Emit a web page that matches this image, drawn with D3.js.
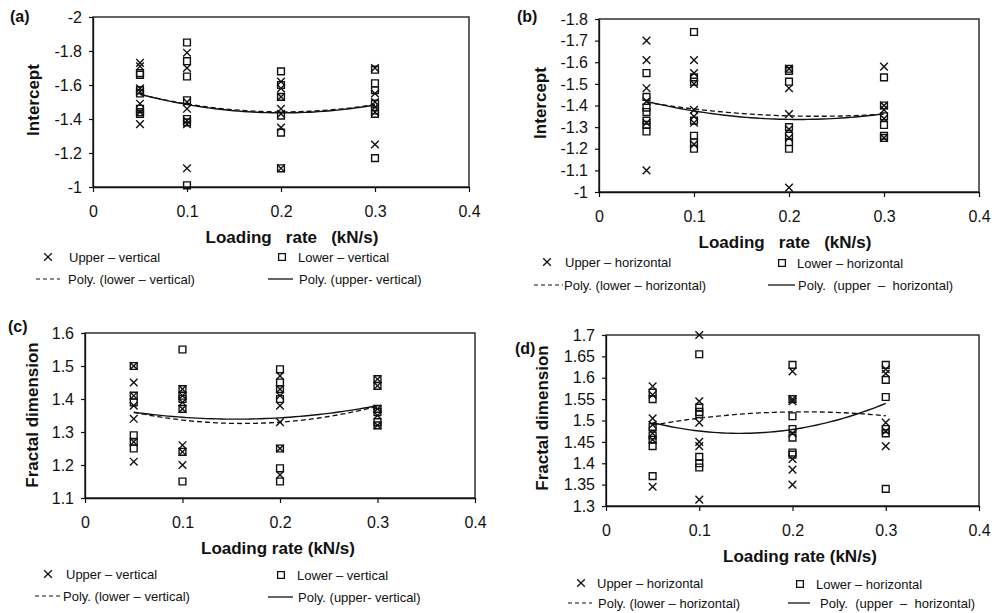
<!DOCTYPE html>
<html>
<head>
<meta charset="utf-8">
<script src="https://cdn.jsdelivr.net/npm/d3@7/dist/d3.min.js"></script>
<style>
  html, body { margin: 0; padding: 0; background: #fff; }
  svg { display: block; font-family: "Liberation Sans", Arial, sans-serif; }
  text { white-space: pre; fill: #111; }
</style>
</head>
<body>
<svg id="chart" width="995" height="613"></svg>
<script>
// Loading rates (kN/s) at which specimens were tested
const loadingRates = [0.05, 0.1, 0.2, 0.3];
const xTicks = [0, 0.1, 0.2, 0.3, 0.4];

// (a) Intercept, vertical direction — one list per loading rate
const interceptUpperVertical = [
  [-1.73, -1.71, -1.58, -1.56, -1.49, -1.44, -1.37],
  [-1.79, -1.70, -1.50, -1.46, -1.39, -1.37, -1.11],
  [-1.62, -1.58, -1.53, -1.46, -1.43, -1.35, -1.11],
  [-1.70, -1.55, -1.50, -1.47, -1.44, -1.25]
];
const interceptLowerVertical = [
  [-1.67, -1.66, -1.57, -1.55, -1.46, -1.44, -1.43],
  [-1.85, -1.74, -1.65, -1.51, -1.40, -1.38, -1.01],
  [-1.68, -1.60, -1.53, -1.42, -1.32, -1.11],
  [-1.69, -1.61, -1.57, -1.49, -1.45, -1.43, -1.17]
];
// second-order trendline coefficients [c0, c1, c2]
const interceptUpperVerticalFit = [-1.629, 1.913, -4.747];
const interceptLowerVerticalFit = [-1.624, 1.803, -4.467];
const interceptVerticalTicks = [-2, -1.8, -1.6, -1.4, -1.2, -1];

// (b) Intercept, horizontal direction
const interceptUpperHorizontal = [
  [-1.70, -1.61, -1.48, -1.42, -1.32, -1.10],
  [-1.61, -1.55, -1.50, -1.38, -1.35, -1.32, -1.22],
  [-1.57, -1.48, -1.36, -1.29, -1.25, -1.02],
  [-1.58, -1.40, -1.38, -1.34, -1.25]
];
const interceptLowerHorizontal = [
  [-1.55, -1.44, -1.39, -1.37, -1.33, -1.31, -1.28],
  [-1.74, -1.53, -1.51, -1.33, -1.26, -1.23, -1.20],
  [-1.57, -1.56, -1.51, -1.30, -1.26, -1.23, -1.20],
  [-1.53, -1.40, -1.35, -1.31, -1.26, -1.25]
];
const interceptUpperHorizontalFit = [-1.479, 1.367, -3.253];
const interceptLowerHorizontalFit = [-1.456, 0.92, -2.0];
const interceptHorizontalTicks = [-1.8, -1.7, -1.6, -1.5, -1.4, -1.3, -1.2, -1.1, -1];

// (c) Fractal dimension, vertical direction
const fractalUpperVertical = [
  [1.50, 1.45, 1.41, 1.38, 1.34, 1.27, 1.21],
  [1.43, 1.41, 1.39, 1.37, 1.26, 1.24, 1.20],
  [1.47, 1.43, 1.41, 1.38, 1.33, 1.25, 1.17],
  [1.46, 1.44, 1.37, 1.35, 1.32]
];
const fractalLowerVertical = [
  [1.50, 1.41, 1.39, 1.29, 1.27, 1.25],
  [1.55, 1.43, 1.41, 1.40, 1.37, 1.24, 1.15],
  [1.49, 1.45, 1.43, 1.40, 1.25, 1.19, 1.15],
  [1.46, 1.44, 1.37, 1.36, 1.33, 1.32]
];
const fractalUpperVerticalFit = [1.385, -0.597, 1.933];
const fractalLowerVerticalFit = [1.397, -0.88, 2.72];
const fractalVerticalTicks = [1.1, 1.2, 1.3, 1.4, 1.5, 1.6];

// (d) Fractal dimension, horizontal direction
const fractalUpperHorizontal = [
  [1.58, 1.56, 1.505, 1.49, 1.47, 1.455, 1.345],
  [1.70, 1.545, 1.495, 1.45, 1.44, 1.315],
  [1.615, 1.55, 1.545, 1.47, 1.41, 1.385, 1.35],
  [1.62, 1.61, 1.495, 1.475, 1.44]
];
const fractalLowerHorizontal = [
  [1.565, 1.55, 1.485, 1.465, 1.455, 1.44, 1.37],
  [1.655, 1.53, 1.52, 1.515, 1.415, 1.40, 1.39],
  [1.63, 1.55, 1.51, 1.48, 1.46, 1.425, 1.42],
  [1.63, 1.595, 1.555, 1.48, 1.47, 1.34]
];
const fractalUpperHorizontalFit = [1.529, -0.823, 2.867];
const fractalLowerHorizontalFit = [1.467, 0.503, -1.187];
const fractalHorizontalTicks = [1.3, 1.35, 1.4, 1.45, 1.5, 1.55, 1.6, 1.65, 1.7];

// Panel geometry and text
const panels = [
  {
    tag: "(a)", tagPos: [10, 22],
    box: { left: 93, right: 469, top: 17, bottom: 187 },
    yDomain: [-2, -1], yTicks: interceptVerticalTicks,
    yTitle: "Intercept", yTitlePos: [33, 100],
    xTitle: "Loading   rate   (kN/s)", xTitlePos: [292, 243],
    upper: interceptUpperVertical, lower: interceptLowerVertical,
    upperFit: interceptUpperVerticalFit, lowerFit: interceptLowerVerticalFit,
    legend: {
      upper: { mark: [48, 257], text: [69, 257], label: "Upper – vertical" },
      lower: { mark: [282, 257], text: [298, 257], label: "Lower – vertical" },
      lowerFit: { line: [36, 60, 279], text: [68, 279], label: "Poly. (lower – vertical)" },
      upperFit: { line: [268, 293, 279], text: [299, 279], label: "Poly. (upper- vertical)" }
    }
  },
  {
    tag: "(b)", tagPos: [517, 22],
    box: { left: 599, right: 979, top: 19, bottom: 192 },
    yDomain: [-1.8, -1], yTicks: interceptHorizontalTicks,
    yTitle: "Intercept", yTitlePos: [540, 103],
    xTitle: "Loading   rate   (kN/s)", xTitlePos: [785, 248],
    upper: interceptUpperHorizontal, lower: interceptLowerHorizontal,
    upperFit: interceptUpperHorizontalFit, lowerFit: interceptLowerHorizontalFit,
    legend: {
      upper: { mark: [547, 262], text: [565, 262], label: "Upper – horizontal" },
      lower: { mark: [782, 263], text: [797, 263], label: "Lower – horizontal" },
      lowerFit: { line: [534, 563, 285], text: [564, 285], label: "Poly. (lower – horizontal)" },
      upperFit: { line: [768, 795, 285], text: [798, 285], label: "Poly.  (upper  –  horizontal)" }
    }
  },
  {
    tag: "(c)", tagPos: [8, 332],
    box: { left: 85, right: 475, top: 333, bottom: 498 },
    yDomain: [1.6, 1.1], yTicks: fractalVerticalTicks,
    yTitle: "Fractal dimension", yTitlePos: [32, 415],
    xTitle: "Loading rate (kN/s)", xTitlePos: [278, 554],
    upper: fractalUpperVertical, lower: fractalLowerVertical,
    upperFit: fractalUpperVerticalFit, lowerFit: fractalLowerVerticalFit,
    legend: {
      upper: { mark: [48, 574], text: [66, 574], label: "Upper – vertical" },
      lower: { mark: [281, 575], text: [297, 575], label: "Lower – vertical" },
      lowerFit: { line: [35, 60, 596], text: [63, 596], label: "Poly. (lower – vertical)" },
      upperFit: { line: [268, 293, 597], text: [298, 597], label: "Poly. (upper- vertical)" }
    }
  },
  {
    tag: "(d)", tagPos: [515, 354],
    box: { left: 606, right: 979, top: 335, bottom: 506 },
    yDomain: [1.7, 1.3], yTicks: fractalHorizontalTicks,
    yTitle: "Fractal dimension", yTitlePos: [542, 418],
    xTitle: "Loading rate (kN/s)", xTitlePos: [800, 562],
    upper: fractalUpperHorizontal, lower: fractalLowerHorizontal,
    upperFit: fractalUpperHorizontalFit, lowerFit: fractalLowerHorizontalFit,
    legend: {
      upper: { mark: [581, 583], text: [597, 583], label: "Upper – horizontal" },
      lower: { mark: [800, 584], text: [816, 584], label: "Lower – horizontal" },
      lowerFit: { line: [568, 592, 603], text: [598, 603], label: "Poly. (lower – horizontal)" },
      upperFit: { line: [788, 810, 603], text: [820, 603], label: "Poly.  (upper  –  horizontal)" }
    }
  }
];

const svg = d3.select("#chart");
const ink = "#111";
const crossPath = d3.symbol(d3.symbolTimes, 40)();
const squarePath = d3.symbol(d3.symbolSquare, 46)();
const poly = (c, x) => c[0] + c[1] * x + c[2] * x * x;

function drawPanel(p) {
  const g = svg.append("g");
  const x = d3.scaleLinear().domain([0, 0.4]).range([p.box.left, p.box.right]);
  const y = d3.scaleLinear().domain(p.yDomain).range([p.box.top, p.box.bottom]);

  // frame
  g.append("rect")
    .attr("x", p.box.left).attr("y", p.box.top)
    .attr("width", p.box.right - p.box.left).attr("height", p.box.bottom - p.box.top)
    .attr("fill", "none").attr("stroke", ink).attr("stroke-width", 1.3);

  // axes
  const xAxis = d3.axisBottom(x).tickValues(xTicks).tickFormat(d => String(d))
    .tickSizeInner(5).tickSizeOuter(0).tickPadding(14);
  const yAxis = d3.axisLeft(y).tickValues(p.yTicks).tickFormat(d => String(d))
    .tickSizeInner(4).tickSizeOuter(0).tickPadding(7);

  const gx = g.append("g").attr("transform", `translate(0,${p.box.bottom})`).call(xAxis);
  const gy = g.append("g").attr("transform", `translate(${p.box.left},0)`).call(yAxis);
  [gx, gy].forEach(a => {
    a.select(".domain").attr("stroke", ink).attr("stroke-width", 1.3);
    a.selectAll(".tick line").attr("stroke", ink).attr("stroke-width", 1.2);
    a.selectAll(".tick text").attr("font-size", 16).attr("fill", ink)
      .attr("font-family", "Liberation Sans, Arial, sans-serif");
  });

  // points
  const flat = (series) => series.flatMap((vals, i) => vals.map(v => ({ x: loadingRates[i], v })));
  g.append("g").selectAll("path").data(flat(p.lower)).join("path")
    .attr("d", squarePath)
    .attr("transform", d => `translate(${x(d.x)},${y(d.v)})`)
    .attr("fill", "none").attr("stroke", ink).attr("stroke-width", 1.4);
  g.append("g").selectAll("path").data(flat(p.upper)).join("path")
    .attr("d", crossPath)
    .attr("transform", d => `translate(${x(d.x)},${y(d.v)})`)
    .attr("fill", "none").attr("stroke", ink).attr("stroke-width", 1.4);

  // polynomial trendlines over the tested range
  const xs = d3.range(loadingRates[0], loadingRates[loadingRates.length - 1] + 1e-9, 0.005);
  const line = d3.line().x(d => x(d[0])).y(d => y(d[1])).curve(d3.curveLinear);
  g.append("path").datum(xs.map(v => [v, poly(p.lowerFit, v)]))
    .attr("d", line).attr("fill", "none").attr("stroke", ink)
    .attr("stroke-width", 1.3).attr("stroke-dasharray", "5,3");
  g.append("path").datum(xs.map(v => [v, poly(p.upperFit, v)]))
    .attr("d", line).attr("fill", "none").attr("stroke", ink).attr("stroke-width", 1.4);

  // titles
  g.append("text").attr("x", p.tagPos[0]).attr("y", p.tagPos[1])
    .attr("font-size", 16).attr("font-weight", "bold").text(p.tag);
  g.append("text").attr("x", p.xTitlePos[0]).attr("y", p.xTitlePos[1])
    .attr("text-anchor", "middle").attr("font-size", 17).attr("font-weight", "bold")
    .text(p.xTitle);
  g.append("text")
    .attr("transform", `translate(${p.yTitlePos[0]},${p.yTitlePos[1]}) rotate(-90)`)
    .attr("text-anchor", "middle").attr("dominant-baseline", "central")
    .attr("font-size", 17).attr("font-weight", "bold").text(p.yTitle);

  // legend
  const L = p.legend;
  const lg = g.append("g").attr("font-size", 13);
  lg.append("path").attr("d", crossPath)
    .attr("transform", `translate(${L.upper.mark[0]},${L.upper.mark[1]})`)
    .attr("fill", "none").attr("stroke", ink).attr("stroke-width", 1.3);
  lg.append("text").attr("x", L.upper.text[0]).attr("y", L.upper.text[1])
    .attr("dominant-baseline", "central").text(L.upper.label);
  lg.append("path").attr("d", squarePath)
    .attr("transform", `translate(${L.lower.mark[0]},${L.lower.mark[1]})`)
    .attr("fill", "none").attr("stroke", ink).attr("stroke-width", 1.3);
  lg.append("text").attr("x", L.lower.text[0]).attr("y", L.lower.text[1])
    .attr("dominant-baseline", "central").text(L.lower.label);
  lg.append("line").attr("x1", L.lowerFit.line[0]).attr("x2", L.lowerFit.line[1])
    .attr("y1", L.lowerFit.line[2]).attr("y2", L.lowerFit.line[2])
    .attr("stroke", ink).attr("stroke-width", 1.2).attr("stroke-dasharray", "4,3");
  lg.append("text").attr("x", L.lowerFit.text[0]).attr("y", L.lowerFit.text[1])
    .attr("dominant-baseline", "central").text(L.lowerFit.label);
  lg.append("line").attr("x1", L.upperFit.line[0]).attr("x2", L.upperFit.line[1])
    .attr("y1", L.upperFit.line[2]).attr("y2", L.upperFit.line[2])
    .attr("stroke", ink).attr("stroke-width", 1.3);
  lg.append("text").attr("x", L.upperFit.text[0]).attr("y", L.upperFit.text[1])
    .attr("dominant-baseline", "central").text(L.upperFit.label);
}

panels.forEach(drawPanel);
</script>
</body>
</html>
